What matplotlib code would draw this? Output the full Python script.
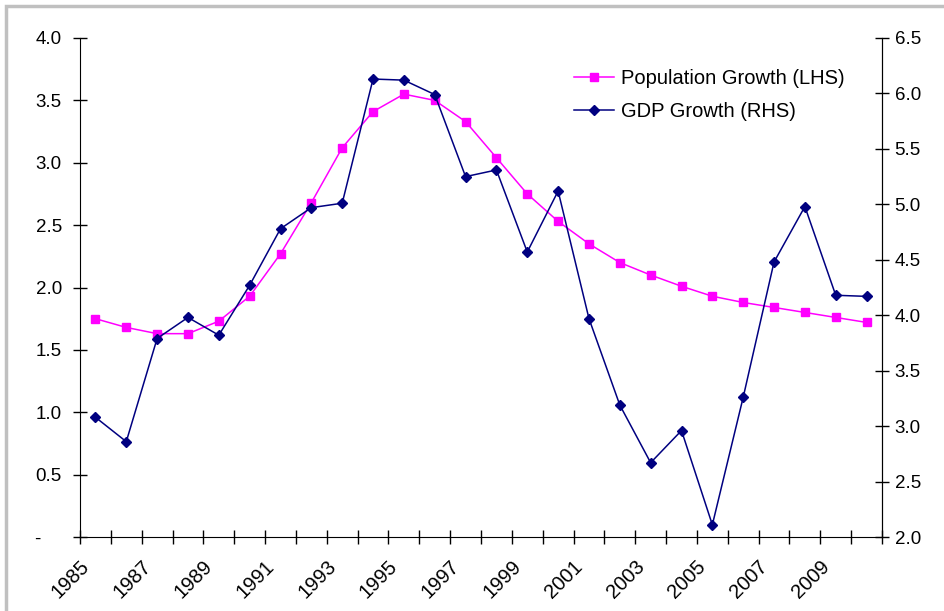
import numpy as np
from matplotlib import pyplot as plt
from matplotlib.patches import Rectangle
from matplotlib.transforms import ScaledTranslation

plt.rcParams['font.family'] = ['Liberation Sans', 'DejaVu Sans']

years = list(range(1985, 2011))
pop_growth = [1.75, 1.68, 1.63, 1.63, 1.73, 1.93, 2.27, 2.68, 3.12, 3.41, 3.55, 3.50, 3.33,
              3.04, 2.75, 2.53, 2.35, 2.20, 2.10, 2.01, 1.93, 1.88, 1.84, 1.80, 1.76, 1.72]
gdp_growth = [3.08, 2.86, 3.79, 3.98, 3.82, 4.27, 4.78, 4.97, 5.01, 6.13, 6.12, 5.99, 5.25,
              5.31, 4.57, 5.12, 3.97, 3.19, 2.67, 2.96, 2.11, 3.26, 4.48, 4.98, 4.18, 4.17]
left_ticks = np.arange(0, 4.01, 0.5)
right_ticks = np.arange(2.0, 6.51, 0.5)

font_size = 13.5
fig = plt.figure(figsize=(9.44, 6.11), dpi=100)
fig.patches.append(Rectangle((6/944, -0.1), 1.2, 1 - 6/611 + 0.1, transform=fig.transFigure,
                             fill=False, edgecolor='#c0c0c0', linewidth=2.5))

ax = fig.add_axes([80/944, 1 - 537/611, 802/944, 499/611])
ax2 = ax.twinx()

x = np.arange(len(years))
l1, = ax.plot(x, pop_growth, color='#ff00ff', linewidth=1.1, marker='s', markersize=6,
              label='Population Growth (LHS)')
l2, = ax2.plot(x, gdp_growth, color='#000080', linewidth=1.1, marker='D', markersize=5,
               label='GDP Growth (RHS)')

ax.set_xlim(-0.5, len(years) - 0.5)
ax.set_ylim(0, 4.0)
ax2.set_ylim(2.0, 6.5)

ax.set_yticks(left_ticks)
ax.set_yticklabels(['-' + ' ' * 4] + ['%.1f' % v for v in left_ticks[1:]], fontsize=font_size)
ax2.set_yticks(right_ticks)
ax2.set_yticklabels(['%.1f' % v for v in right_ticks], fontsize=font_size)

# tick marks on category boundaries, year labels on every other category centre
ax.set_xticks(np.arange(len(years) + 1) - 0.5)
ax.set_xticklabels([])
lab_trans = ax.get_xaxis_transform() + ScaledTranslation(-16/100, -20/100, fig.dpi_scale_trans)
for xi, yr in zip(x[::2], years[::2]):
    ax.text(xi, 0, str(yr), transform=lab_trans, fontsize=14.5, rotation=45,
            ha='right', va='top', rotation_mode='anchor')
ax.tick_params(axis='x', which='major', direction='inout', length=10, width=1)
ax.tick_params(axis='y', direction='inout', length=10, width=1, pad=8)
ax2.tick_params(axis='y', direction='inout', length=10, width=1, pad=4)

for a in (ax, ax2):
    a.spines['top'].set_visible(False)
ax2.spines['left'].set_visible(False)
ax2.spines['bottom'].set_visible(False)

fig.legend(handles=[l1, l2], loc='upper left', bbox_to_anchor=(574/944, 1 - 69/611),
           frameon=False, fontsize=14.5, handlelength=2.0, handletextpad=0.35,
           labelspacing=0.7, borderpad=0, borderaxespad=0)

plt.savefig('out.png', dpi=100)
